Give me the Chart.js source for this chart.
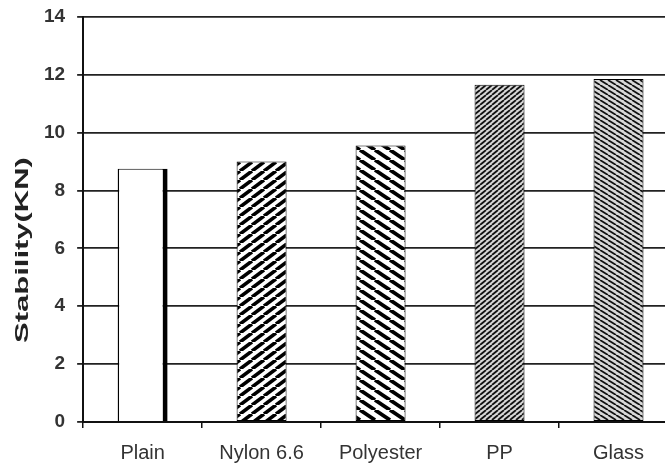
<!DOCTYPE html>
<html>
<head>
<meta charset="utf-8">
<script src="https://cdn.jsdelivr.net/npm/chart.js@4/dist/chart.umd.min.js"></script>
<style>
  html, body { margin: 0; padding: 0; background: #fff; overflow: hidden; }
  #wrap { position: relative; width: 682px; height: 480px; }
</style>
</head>
<body>
<div id="wrap"><canvas id="chart"></canvas></div>
<script>
(function(){
  // data
  const categories = ['Plain', 'Nylon 6.6', 'Polyester', 'PP', 'Glass'];
  const stability = [8.75, 9.0, 9.55, 11.65, 11.85];
  const yTicks = [0, 2, 4, 6, 8, 10, 12, 14];
  const yTitle = 'Stability(KN)';

  // hatch fill: tile w x h, dir 1 = "/", -1 = "\"
  function hatch(w, h, dir, lw, fg, bg){
    const c = document.createElement('canvas');
    c.width = w; c.height = h;
    const g = c.getContext('2d');
    g.fillStyle = bg;
    g.fillRect(0, 0, w, h);
    g.strokeStyle = fg;
    g.lineWidth = lw;
    for (let k = -1; k <= 1; k++) {
      g.beginPath();
      if (dir > 0) { g.moveTo(k * w, h); g.lineTo(k * w + w, 0); }
      else { g.moveTo(k * w, 0); g.lineTo(k * w + w, h); }
      g.stroke();
    }
    return g.createPattern(c, 'repeat');
  }

  const fills = [
    '#ffffff',
    hatch(12, 9, 1, 3.6, '#000', '#fff'),
    hatch(15, 10, -1, 3.8, '#000', '#fff'),
    hatch(6, 5, 1, 1.8, '#111', '#d8d8d8'),
    hatch(8, 5, -1, 1.8, '#111', '#d8d8d8'),
  ];

  // rotated axis title, stretched along its length like the original
  const titlePlugin = {
    id: 'yTitle',
    afterDraw(chart){
      const ctx = chart.ctx;
      ctx.save();
      ctx.translate(23, 250);
      ctx.rotate(-Math.PI / 2);
      ctx.scale(1.72, 1);
      ctx.font = 'bold 18px "Liberation Sans", Arial, sans-serif';
      ctx.fillStyle = '#222';
      ctx.textAlign = 'center';
      ctx.textBaseline = 'middle';
      ctx.fillText(yTitle, 0, 0);
      ctx.restore();
    }
  };

  const ctx = document.getElementById('chart').getContext('2d');
  new Chart(ctx, {
    type: 'bar',
    data: {
      labels: categories,
      datasets: [{
        data: stability,
        backgroundColor: fills,
        borderColor: '#000',
        borderWidth: [
          { top: 1, left: 1.5, bottom: 0, right: 5 },
          1, 1, 1, 1
        ],
        borderSkipped: false,
        barPercentage: 0.42,
        categoryPercentage: 1,
      }],
    },
    options: {
      animation: false,
      responsive: true,
      maintainAspectRatio: false,
      layout: { padding: { left: 32, top: 0, right: 4, bottom: 2 } },
      plugins: { legend: { display: false }, tooltip: { enabled: false } },
      scales: {
        x: {
          offset: true,
          grid: { offset: true, drawOnChartArea: false, drawTicks: true, tickLength: 6, color: '#111', lineWidth: 1.5 },
          border: { color: '#111', width: 2 },
          ticks: {
            color: '#333',
            padding: 13,
            font: { family: '"Liberation Sans", Arial, sans-serif', size: 20 },
          },
        },
        y: {
          min: 0,
          max: 14,
          afterBuildTicks: (axis) => { axis.ticks = yTicks.map(v => ({ value: v })); },
          grid: { color: '#222', lineWidth: 1.8, tickLength: 6 },
          border: { color: '#111', width: 2 },
          ticks: {
            color: '#333',
            padding: 12,
            font: { family: '"Liberation Sans", Arial, sans-serif', size: 19, weight: 'bold', lineHeight: 0.5 },
          },
        },
      },
    },
    plugins: [titlePlugin],
  });
})();
</script>
</body>
</html>
